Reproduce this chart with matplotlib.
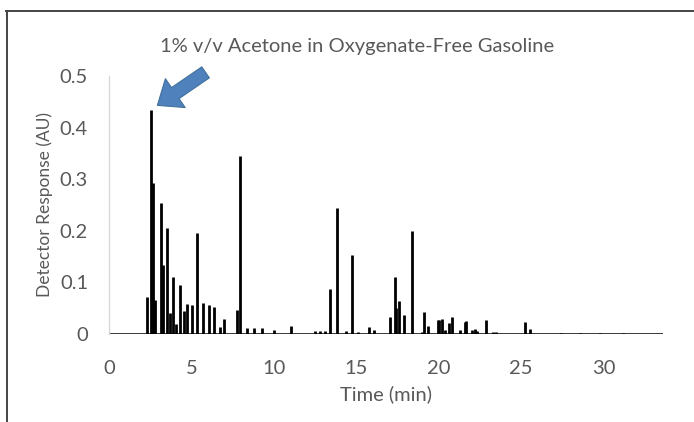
import numpy as np
import matplotlib
matplotlib.use("Agg")
import matplotlib.pyplot as plt
from matplotlib.lines import Line2D
from matplotlib.ticker import FuncFormatter

# Peak list: retention time (min), height (AU)
peak_times = [2.32, 2.55, 2.69, 2.79, 3.15, 3.29, 3.54, 3.68, 3.90, 4.05, 4.32, 4.55, 4.75,
              5.01, 5.33, 5.70, 6.04, 6.36, 6.75, 6.97, 7.76, 7.96, 8.38, 8.79, 9.27,
              10.0, 11.07, 12.5, 12.8, 13.1, 13.39, 13.86, 14.4, 14.75, 15.1, 15.8, 16.06,
              17.07, 17.35, 17.43, 17.6, 17.88, 18.36, 18.97, 19.09, 19.37, 19.96, 20.05,
              20.18, 20.4, 20.63, 20.83, 21.3, 21.58, 21.68, 22.0, 22.2, 22.3, 22.89,
              23.3, 23.5, 25.25, 25.56, 27.4, 28.6, 29.8, 31.2]
peak_heights = [0.072, 0.435, 0.293, 0.066, 0.253, 0.134, 0.205, 0.040, 0.110, 0.020, 0.094,
                0.045, 0.058, 0.056, 0.195, 0.061, 0.056, 0.053, 0.014, 0.030, 0.047, 0.344,
                0.012, 0.012, 0.012, 0.008, 0.016, 0.005, 0.005, 0.005, 0.087, 0.245, 0.006,
                0.154, 0.004, 0.013, 0.007, 0.032, 0.111, 0.050, 0.063, 0.037, 0.200, 0.004,
                0.043, 0.016, 0.027, 0.028, 0.030, 0.008, 0.021, 0.032, 0.008, 0.023, 0.025,
                0.007, 0.009, 0.006, 0.028, 0.004, 0.004, 0.023, 0.010, 0.002, 0.002, 0.002,
                0.002]
run_end = 33.6

y_ticks = [0, 0.1, 0.2, 0.3, 0.4, 0.5]
x_ticks = [0, 5, 10, 15, 20, 25, 30]

txt = "#595959"
plt.rcParams['font.family'] = ['Lato', 'DejaVu Sans']

fig = plt.figure(figsize=(6.94, 4.22), dpi=100)
ax = fig.add_axes([0.157, 0.2085, 0.798, 0.6115])

ax.plot([0, run_end], [0, 0], color="black", lw=1.8, solid_capstyle="butt")
ax.vlines(peak_times, 0, peak_heights, color="black", lw=2.0)

ax.set_xlim(0, run_end)
ax.set_ylim(0, 0.5)
ax.set_xticks(x_ticks)
ax.set_yticks(y_ticks)
ax.yaxis.set_major_formatter(FuncFormatter(lambda v, p: "%g" % v))
ax.tick_params(length=0, labelsize=14.5, colors=txt)
ax.tick_params(axis="x", pad=19)
ax.tick_params(axis="y", pad=15)

for s in ["top", "right", "bottom"]:
    ax.spines[s].set_visible(False)
ax.spines["left"].set_color("#d9d9d9")
ax.spines["left"].set_linewidth(1)

ax.set_xlabel("Time (min)", fontsize=14.5, color=txt, labelpad=6)
ax.set_ylabel("Detector Response (AU)", fontsize=12.5, color=txt, labelpad=5)
fig.text(0.514, 0.89, "1% v/v Acetone in Oxygenate-Free Gasoline", ha="center",
         va="center", fontsize=14.5, color=txt)

# blue arrow pointing at the acetone peak
ax.annotate("", xy=(2.8, 0.44), xytext=(6.0, 0.51), annotation_clip=False,
            arrowprops=dict(arrowstyle="simple,head_width=2.1,head_length=1.3,tail_width=0.8",
                            mutation_scale=12, fc="#4F81BD", ec="#41719C", lw=0.8))

# chart-area border (top and left edges visible)
fig.add_artist(Line2D([0.008, 1.0], [0.973, 0.973], color="#444444", lw=1.4))
fig.add_artist(Line2D([0.01, 0.01], [0.0, 0.973], color="#444444", lw=1.4))

fig.savefig("out.png", dpi=100)
